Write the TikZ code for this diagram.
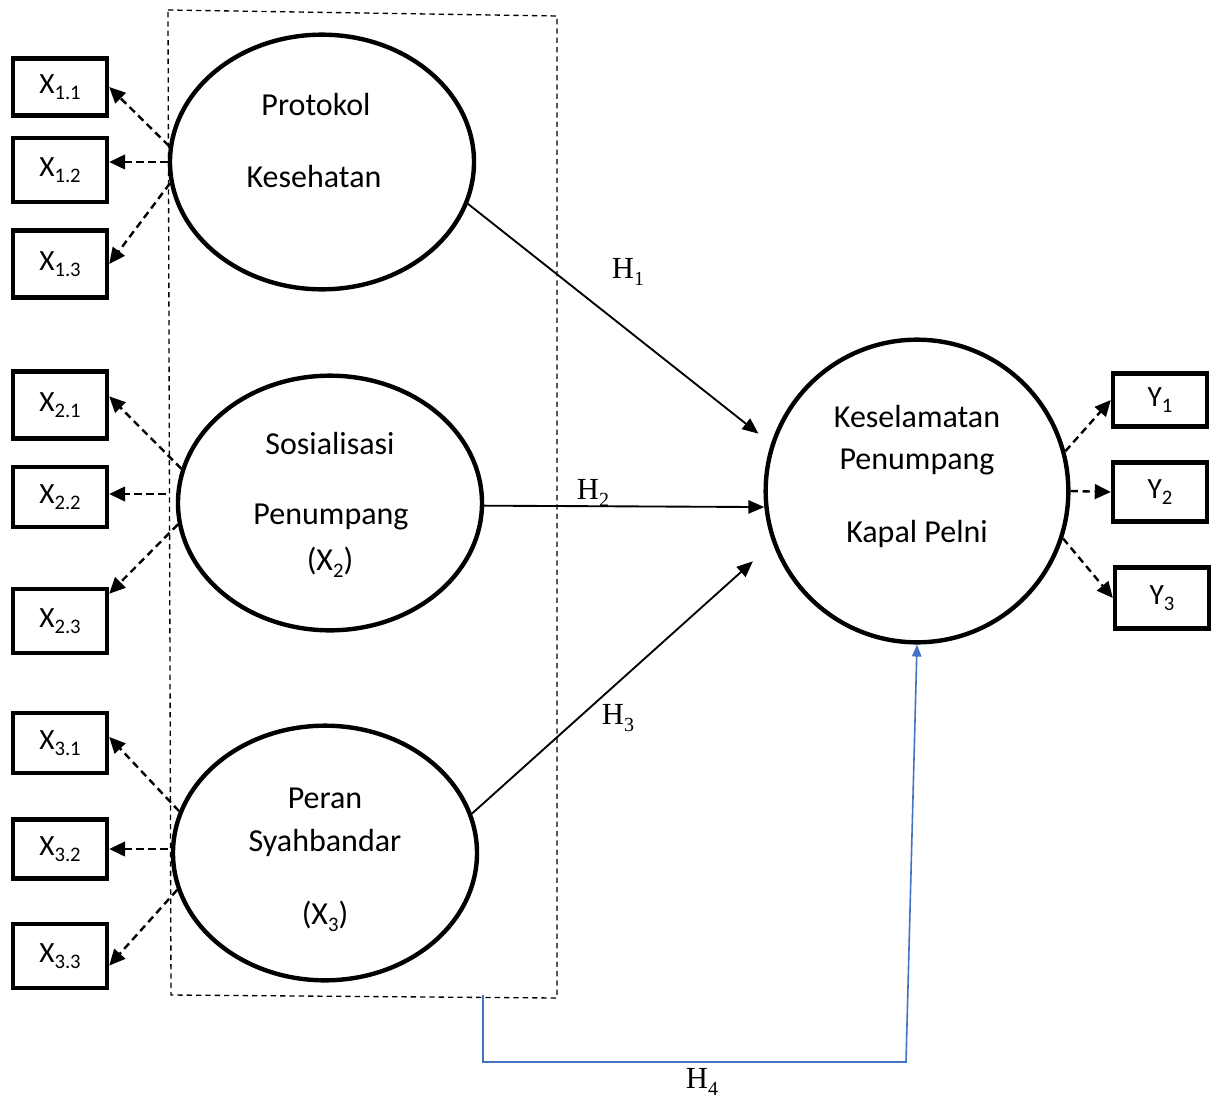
\documentclass[tikz,border=0pt]{standalone}
\usepackage{fontspec}
\setmainfont{Carlito}
\newfontfamily\tnr{Liberation Serif}
\usetikzlibrary{arrows.meta,shapes.geometric}
\definecolor{hblue}{RGB}{68,114,196}
\newcommand{\mysub}[1]{\raisebox{-0.22em}{\fontsize{15.5}{15.5}\selectfont #1}}
\newcommand{\hsub}[1]{\raisebox{-0.22em}{\fontsize{15}{15}\selectfont #1}}
\begin{document}
\begin{tikzpicture}[x=0.75pt,y=-0.75pt,
  xbox/.style={draw,line width=3.3pt,minimum width=70.5pt,minimum height=48pt,inner sep=0pt,font=\fontsize{22}{24}\selectfont},
  lat/.style={draw,ellipse,line width=3.3pt,minimum width=228pt,minimum height=191pt,inner sep=0pt},
  ltxt/.style={font=\fontsize{24}{27}\selectfont,inner sep=0pt},
  htxt/.style={font=\tnr\fontsize{23}{26}\selectfont,inner sep=0pt},
  darr/.style={line width=1.8pt,dash pattern=on 5.5pt off 3.5pt,-{Triangle[length=12pt,width=11pt]}},
  sarr/.style={line width=1.4pt,-{Triangle[length=12pt,width=10pt]}}]
\useasboundingbox (0,0) rectangle (1219,1099);
% dashed frame
\draw[line width=1pt,dash pattern=on 4pt off 3pt] (168,10) -- (557,16) -- (557,998) -- (171,995) -- cycle;
\coordinate (hb) at (483,995);
% latent variables
\node[lat] (e1) at (322,162) {};
\node[lat] (e2) at (330,503) {};
\node[lat] (e3) at (325,853) {};
\node[draw,circle,line width=3.3pt,minimum size=227pt,inner sep=0pt] (c) at (917,491) {};
% texts
\node[ltxt] (t11) at (316,105) {Protokol};
\node[ltxt] (t12) at (314,177) {Kesehatan};
\node[ltxt] (t21) at (330,444) {Sosialisasi};
\node[ltxt] (t22) at (331,517) {Penumpang};
\node[ltxt] (t23) at (330,562) {(X\mysub{2})};
\node[ltxt] (t31) at (325,798) {Peran};
\node[ltxt] (t32) at (325,843) {Syahbandar};
\node[ltxt] (t33) at (325,916) {(X\mysub{3})};
\node[ltxt] (ty1) at (917,417) {Keselamatan};
\node[ltxt] (ty2) at (917,462) {Penumpang};
\node[ltxt] (ty3) at (917,534) {Kapal Pelni};
% indicator boxes
\node[xbox,minimum height=43pt] (b11) at (60,87) {X\mysub{1.1}};
\node[xbox] (b12) at (60,170) {X\mysub{1.2}};
\node[xbox,minimum height=50pt] (b13) at (60,264) {X\mysub{1.3}};
\node[xbox,minimum height=50pt] (b21) at (60,405) {X\mysub{2.1}};
\node[xbox,minimum height=45pt] (b22) at (60,497) {X\mysub{2.2}};
\node[xbox] (b23) at (60,621) {X\mysub{2.3}};
\node[xbox,minimum height=45pt] (b31) at (60,743) {X\mysub{3.1}};
\node[xbox,minimum height=44pt] (b32) at (60,849) {X\mysub{3.2}};
\node[xbox] (b33) at (60,956) {X\mysub{3.3}};
\node[xbox,minimum height=40pt] (y1) at (1160,400) {Y\mysub{1}};
\node[xbox,minimum height=44pt] (y2) at (1160,492) {Y\mysub{2}};
\node[xbox,minimum height=46pt] (y3) at (1162,598) {Y\mysub{3}};
% loadings
\coordinate (s22) at ([shift={(-10,-9)}]e2.west);
\coordinate (s32) at ([shift={(-3,-4)}]e3.west);
\draw[darr] (e1.174) -- (b11.east);
\draw[darr] (e1.west) -- (b12.east |- e1.west);
\draw[darr] (e1.188) -- (b13.east);
\draw[darr] (e2.167) -- (b21.10);
\draw[darr] (s22) -- (b22.east |- s22);
\draw[darr] (e2.188) -- (b23.29);
\draw[darr] (e3.164) -- (b31.7);
\draw[darr] (s32) -- (b32.east |- s32);
\draw[darr] (e3.194) -- (b33.-11);
\draw[darr] (c.15) -- (y1.west);
\draw[darr] (c.east) -- (y2.west);
\draw[darr] (c.-18) -- (y3.west);
% hypotheses
\draw[sarr,shorten >=12pt] (e1.-16) -- (c.162);
\draw[sarr] ([yshift=-2pt]e2.east) -- (c.186);
\draw[sarr,shorten >=20pt] (e3.15) -- (c.200);
\draw[hblue,line width=1.2pt,-{Triangle[length=9pt,width=7pt]}] (hb) -- (483,1062) -- (906,1062) -- (c.south);
\node[htxt] (h1) at (628,272) {H\hsub{1}};
\node[htxt] (h2) at (593,493) {H\hsub{2}};
\node[htxt] (h3) at (618,718) {H\hsub{3}};
\node[htxt] (h4) at (702,1082) {H\hsub{4}};
\end{tikzpicture}
\end{document}
